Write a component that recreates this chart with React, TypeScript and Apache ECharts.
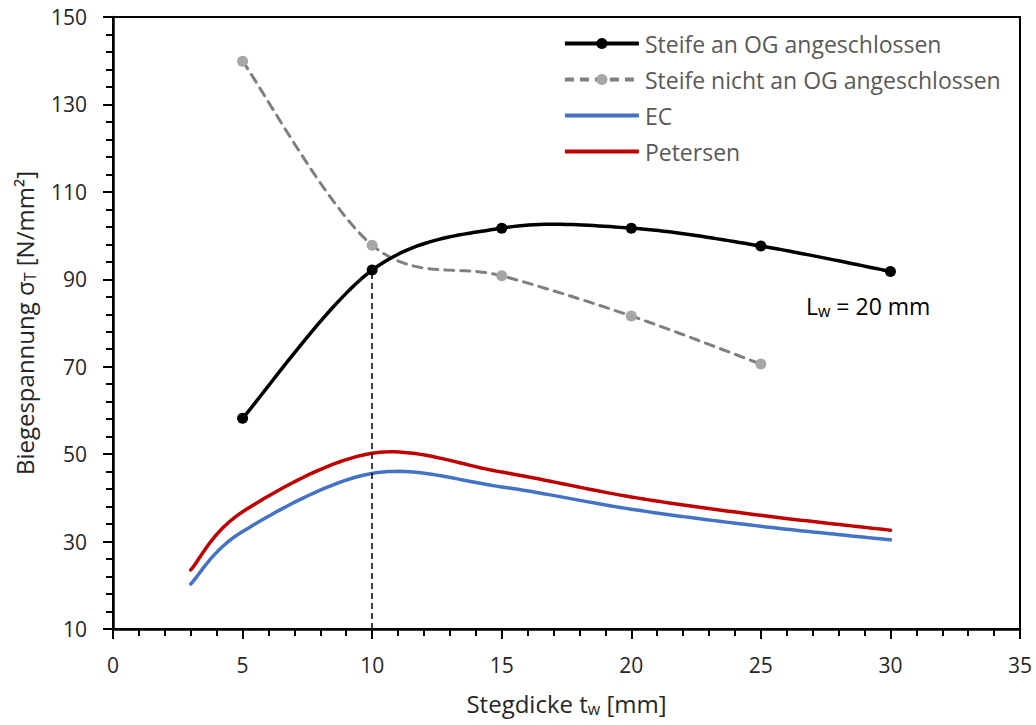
import React, { useEffect, useRef } from "react";
import * as echarts from "echarts";

const xSteife: number[] = [5, 10, 15, 20, 25, 30];
const steifeAn: number[] = [58.2, 92.1, 101.7, 101.7, 97.6, 91.8];
const xNicht: number[] = [5, 10, 15, 20, 25];
const steifeNicht: number[] = [139.9, 97.8, 90.8, 81.6, 70.6];
const xTheory: number[] = [3, 5, 10, 15, 20, 25, 30];
const ecValues: number[] = [20.3, 32.3, 45.6, 42.5, 37.4, 33.5, 30.4];
const petersenValues: number[] = [23.5, 36.8, 50.2, 45.9, 40.2, 36.0, 32.6];
const seriesNames: string[] = [
  "Steife an OG angeschlossen",
  "Steife nicht an OG angeschlossen",
  "EC",
  "Petersen",
];
const refX = 10;

const FONT = "Open Sans";
const BLACK = "#000000";
const GREY_LINE = "#7f7f7f";
const GREY_DOT = "#a6a6a6";
const BLUE = "#4472C4";
const RED = "#C00000";

function pairs(xs: number[], ys: number[]) {
  return xs.map((x, i) => [x, ys[i]]);
}

// Smoothed (Catmull-Rom style Bezier) curve through the data points, using the chart's scale.
function curveSeries(
  name: string,
  xs: number[],
  ys: number[],
  color: string,
  width: number,
  dash: number[] | null,
  z: number
) {
  return {
    name,
    type: "custom",
    z,
    silent: true,
    data: pairs(xs, ys),
    encode: { x: 0, y: 1 },
    itemStyle: { color },
    renderItem: (params: any, api: any) => {
      if (params.dataIndex !== 0) return null;
      const pts: number[][] = xs.map((x, i) => api.coord([x, ys[i]]));
      const n = pts.length;
      const out: number[][] = [pts[0]];
      const STEPS = 24;
      for (let i = 0; i < n - 1; i++) {
        const p0 = pts[Math.max(i - 1, 0)];
        const p1 = pts[i];
        const p2 = pts[i + 1];
        const p3 = pts[Math.min(i + 2, n - 1)];
        const c1 = [p1[0] + (p2[0] - p0[0]) / 6, p1[1] + (p2[1] - p0[1]) / 6];
        const c2 = [p2[0] - (p3[0] - p1[0]) / 6, p2[1] - (p3[1] - p1[1]) / 6];
        for (let s = 1; s <= STEPS; s++) {
          const t = s / STEPS;
          const u = 1 - t;
          const a = u * u * u;
          const b = 3 * u * u * t;
          const c = 3 * u * t * t;
          const d = t * t * t;
          out.push([
            a * p1[0] + b * c1[0] + c * c2[0] + d * p2[0],
            a * p1[1] + b * c1[1] + c * c2[1] + d * p2[1],
          ]);
        }
      }
      return {
        type: "polyline",
        shape: { points: out },
        style: {
          fill: "none",
          stroke: color,
          lineWidth: width,
          lineDash: dash || undefined,
          lineCap: "round",
          lineJoin: "round",
        },
      };
    },
  };
}

export default function App() {
  const ref = useRef<HTMLDivElement>(null);
  useEffect(() => {
    if (!ref.current) return;
    const chart = echarts.init(ref.current, null, { renderer: "svg" });
    const subRich = {
      sub: { fontSize: 16, fontFamily: FONT, color: "#262626", padding: [11, 0, 0, 0] },
    };
    const lineIcon = "path://M0,0H74V3.8H0Z";
    chart.setOption({
      animation: false,
      backgroundColor: "#ffffff",
      textStyle: { fontFamily: FONT },
      grid: {
        left: 113,
        right: 16,
        top: 17,
        bottom: 96,
        show: true,
        borderColor: "#000",
        borderWidth: 2,
      },
      legend: {
        orient: "vertical",
        left: 558,
        top: 27,
        itemWidth: 74,
        itemHeight: 14,
        itemGap: 13,
        symbolKeepAspect: true,
        textStyle: {
          fontSize: 23,
          lineHeight: 23,
          color: "#595959",
          fontFamily: FONT,
          padding: [0, 0, 0, 1],
        },
        data: [
          {
            name: seriesNames[0],
            itemStyle: { color: BLACK },
            lineStyle: { color: BLACK, width: 3.8, type: "solid", opacity: 1 },
          },
          {
            name: seriesNames[1],
            itemStyle: { color: GREY_DOT },
            lineStyle: { color: GREY_LINE, width: 3.8, type: [9, 6], opacity: 1 },
          },
          { name: seriesNames[2], icon: lineIcon, itemStyle: { color: BLUE } },
          { name: seriesNames[3], icon: lineIcon, itemStyle: { color: RED } },
        ],
      },
      xAxis: {
        type: "value",
        min: 0,
        max: 35,
        interval: 5,
        name: "Stegdicke t{sub|w} [mm]",
        nameLocation: "middle",
        nameGap: 61,
        nameTextStyle: { fontSize: 24, color: "#262626", fontFamily: FONT, rich: subRich },
        axisLine: { lineStyle: { color: "#000", width: 2.5 } },
        axisTick: { show: true, length: 10, lineStyle: { color: "#000", width: 2 } },
        minorTick: { show: true, splitNumber: 5, length: 7, lineStyle: { color: "#000", width: 2 } },
        splitLine: { show: false },
        axisLabel: { fontSize: 21, color: "#262626", margin: 25, fontFamily: FONT },
      },
      yAxis: {
        type: "value",
        min: 10,
        max: 150,
        interval: 20,
        name: "Biegespannung σ{sub|T} [N/mm²]",
        nameLocation: "middle",
        nameGap: 75,
        nameRotate: 90,
        nameTextStyle: { fontSize: 24, color: "#262626", fontFamily: FONT, rich: subRich },
        axisLine: { onZero: false, lineStyle: { color: "#000", width: 2.5 } },
        axisTick: { show: true, length: 10, lineStyle: { color: "#000", width: 2 } },
        minorTick: { show: true, splitNumber: 5, length: 7, lineStyle: { color: "#000", width: 2 } },
        splitLine: { show: false },
        axisLabel: { fontSize: 21, color: "#262626", margin: 26, fontFamily: FONT },
      },
      graphic: [
        {
          type: "text",
          left: 806,
          top: 294,
          style: {
            text: "L{sub|w} = 20 mm",
            fontSize: 23,
            fontFamily: FONT,
            fill: "#000",
            rich: { sub: { fontSize: 16, fontFamily: FONT, fill: "#000", padding: [11, 0, 0, 0] } },
          },
        },
      ],
      series: [
        curveSeries(seriesNames[2], xTheory, ecValues, BLUE, 3.5, null, 2),
        curveSeries(seriesNames[3], xTheory, petersenValues, RED, 3.5, null, 2),
        curveSeries("Steife nicht (Kurve)", xNicht, steifeNicht, GREY_LINE, 3, [9, 7], 2),
        curveSeries("Steife an (Kurve)", xSteife, steifeAn, BLACK, 3.5, null, 3),
        {
          name: seriesNames[1],
          type: "line",
          data: pairs(xNicht, steifeNicht),
          symbol: "circle",
          symbolSize: 11,
          z: 4,
          lineStyle: { color: GREY_LINE, width: 3, opacity: 0 },
          itemStyle: { color: GREY_DOT },
        },
        {
          name: seriesNames[0],
          type: "line",
          data: pairs(xSteife, steifeAn),
          symbol: "circle",
          symbolSize: 11,
          z: 5,
          lineStyle: { color: BLACK, width: 3.5, opacity: 0 },
          itemStyle: { color: BLACK },
          markLine: {
            silent: true,
            symbol: "none",
            label: { show: false },
            lineStyle: { color: "#000", width: 1.5, type: [6, 4] },
            data: [[{ coord: [refX, 10] }, { coord: [refX, steifeAn[1]] }]],
          },
        },
      ],
    });
    return () => chart.dispose();
  }, []);
  return (
    <div
      ref={ref}
      style={{ position: "absolute", left: 0, top: 0, width: 1036, height: 725 }}
    />
  );
}
